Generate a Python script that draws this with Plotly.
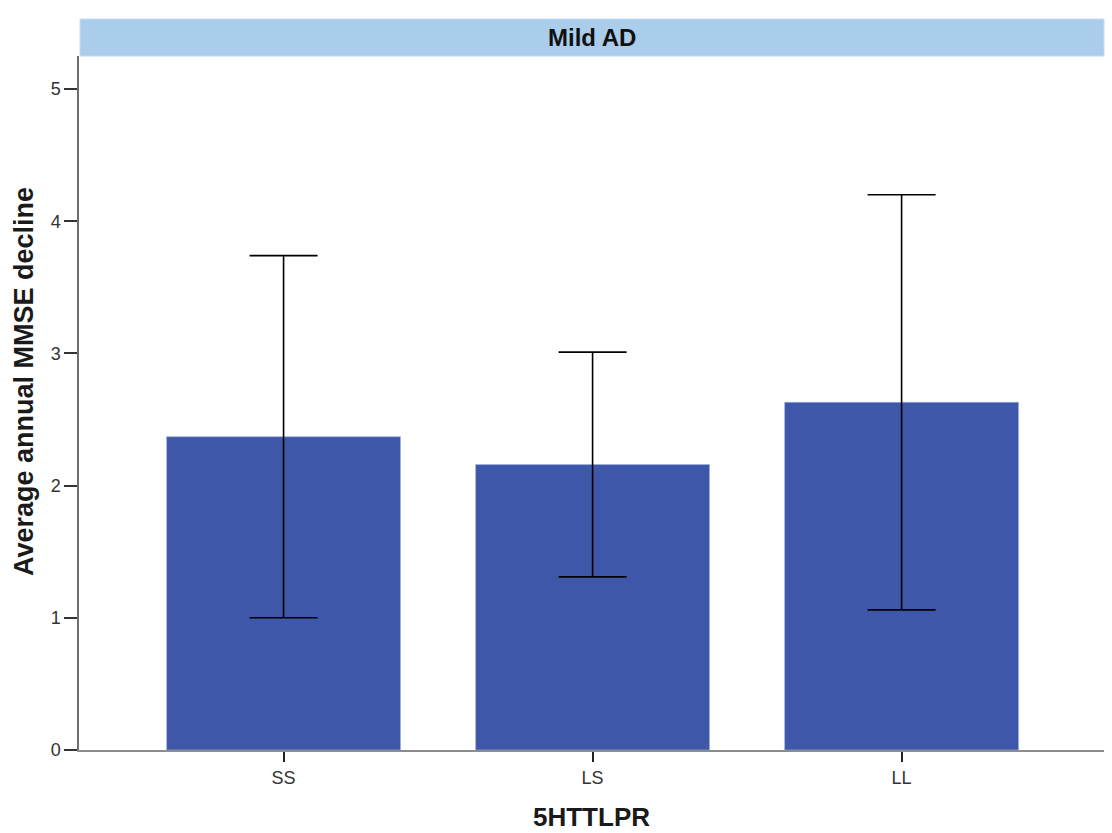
import plotly.graph_objects as go

# Mean annual MMSE decline by 5HTTLPR genotype (mild AD), with interval bounds
genotypes = ["SS", "LS", "LL"]
mean_decline = [2.37, 2.16, 2.63]
upper_bound = [3.74, 3.01, 4.20]
lower_bound = [1.00, 1.31, 1.06]
y_ticks = [0, 1, 2, 3, 4, 5]

err_plus = [u - m for u, m in zip(upper_bound, mean_decline)]
err_minus = [m - l for m, l in zip(mean_decline, lower_bound)]

font_family = "Liberation Sans, Arial, sans-serif"

fig = go.Figure(
    go.Bar(
        x=genotypes,
        y=mean_decline,
        width=0.757,
        marker=dict(color="#3E57A8", line=dict(color="#9DB3E0", width=0.6)),
        error_y=dict(
            type="data",
            symmetric=False,
            array=err_plus,
            arrayminus=err_minus,
            color="#000000",
            thickness=1.6,
            width=34,
        ),
        hoverinfo="skip",
    )
)

fig.update_layout(
    width=1112,
    height=833,
    margin=dict(l=79, r=8, t=56, b=83),
    paper_bgcolor="white",
    plot_bgcolor="white",
    showlegend=False,
    font=dict(family=font_family, color="#222222"),
    xaxis=dict(
        range=[-0.662, 2.655],
        automargin=False,
        showline=True,
        linecolor="#8C8C8C",
        linewidth=2,
        ticks="outside",
        ticklen=10,
        tickwidth=2,
        tickcolor="#222222",
        tickfont=dict(size=18, color="#333333"),
        showgrid=False,
        zeroline=False,
        title=dict(
            text="<b>5HTTLPR</b>",
            font=dict(size=26, color="#1A1A1A"),
            standoff=21,
        ),
    ),
    yaxis=dict(
        range=[0, 5.25],
        automargin=False,
        tickvals=y_ticks,
        showline=True,
        linecolor="#6E6E6E",
        linewidth=1.5,
        ticks="outside",
        ticklen=13,
        tickwidth=2,
        tickcolor="#333333",
        tickfont=dict(size=18, color="#333333"),
        showgrid=False,
        zeroline=False,
    ),
    shapes=[
        dict(
            type="rect",
            xref="paper",
            yref="paper",
            x0=0.001,
            x1=1.0,
            y0=1.0,
            y1=1.0 + 37 / 694,
            fillcolor="#ABCDEC",
            line=dict(color="#C2DAF0", width=1),
            layer="above",
        )
    ],
    annotations=[
        dict(
            text="<b>Mild AD</b>",
            xref="paper",
            yref="paper",
            x=0.5,
            y=1.0 + 18.5 / 694,
            showarrow=False,
            xanchor="center",
            yanchor="middle",
            font=dict(size=24, color="#111111", family=font_family),
        ),
        # y-axis title, placed slightly above the plot's vertical centre
        dict(
            text="<b>Average annual MMSE decline</b>",
            xref="paper",
            yref="paper",
            x=-55 / 1025,
            y=368 / 694,
            textangle=-90,
            showarrow=False,
            xanchor="center",
            yanchor="middle",
            font=dict(size=27, color="#1A1A1A", family=font_family),
        ),
    ],
)

fig.write_html("out.html")
